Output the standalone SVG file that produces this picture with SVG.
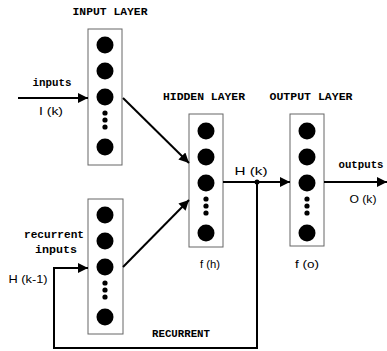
<svg xmlns="http://www.w3.org/2000/svg" width="387" height="351" viewBox="0 0 387 351">
  <style>
    .box { fill: #fff; stroke: #666; stroke-width: 1; }
    .unit { fill: #000; }
    .edge { fill: none; stroke: #000; stroke-width: 2; }
    .title { font-family: "Liberation Mono", monospace; font-weight: bold; font-size: 11px; fill: #000; text-anchor: middle; }
    .lbl { font-family: "Liberation Mono", monospace; font-weight: bold; font-size: 11px; fill: #000; text-anchor: middle; }
    .sym { font-family: "Liberation Sans", Arial, sans-serif; font-size: 11px; fill: #000; text-anchor: middle; }
  </style>
  <defs>
    <marker id="arrow" viewBox="0 0 10 10" refX="10" refY="5" markerWidth="6" markerHeight="5" markerUnits="strokeWidth" orient="auto">
      <path d="M0,0 L10,5 L0,10 Z" fill="#000"/>
    </marker>
    <!-- a column of neuron units: three circles, three dots, one circle -->
    <g id="column">
      <circle class="unit" cx="0" cy="0" r="8.5"/>
      <circle class="unit" cx="0" cy="26" r="8.5"/>
      <circle class="unit" cx="0" cy="52" r="8.5"/>
      <circle class="unit" cx="0" cy="68" r="2.6"/>
      <circle class="unit" cx="0" cy="75" r="2.6"/>
      <circle class="unit" cx="0" cy="82" r="2.6"/>
      <circle class="unit" cx="0" cy="102" r="8.5"/>
    </g>
  </defs>

  <rect width="387" height="351" fill="#fff"/>

  <g id="input-layer">
    <text class="title" x="110" y="15" textLength="75" lengthAdjust="spacingAndGlyphs">INPUT LAYER</text>
    <rect class="box" x="88" y="29" width="34" height="136"/>
    <use href="#column" x="105" y="45"/>
  </g>

  <g id="recurrent-layer">
    <rect class="box" x="88" y="199" width="35" height="135"/>
    <use href="#column" x="105" y="215"/>
    <text class="lbl" x="54" y="238" textLength="60" lengthAdjust="spacingAndGlyphs">recurrent</text>
    <text class="lbl" x="56" y="253" textLength="42" lengthAdjust="spacingAndGlyphs">inputs</text>
  </g>

  <g id="hidden-layer">
    <text class="title" x="204" y="100" textLength="82" lengthAdjust="spacingAndGlyphs">HIDDEN LAYER</text>
    <rect class="box" x="189" y="114" width="34" height="133"/>
    <use href="#column" x="206" y="131"/>
    <text class="sym" x="210" y="268" textLength="20" lengthAdjust="spacingAndGlyphs">f (h)</text>
  </g>

  <g id="output-layer">
    <text class="title" x="311" y="100" textLength="83" lengthAdjust="spacingAndGlyphs">OUTPUT LAYER</text>
    <rect class="box" x="290" y="114" width="34" height="132"/>
    <use href="#column" x="307" y="131"/>
    <text class="sym" x="307" y="268" textLength="24" lengthAdjust="spacingAndGlyphs">f (o)</text>
  </g>

  <g id="connectors">
    <!-- external inputs -->
    <line class="edge" x1="18" y1="98" x2="88" y2="98" marker-end="url(#arrow)"/>
    <!-- input and recurrent layers into hidden layer -->
    <line class="edge" x1="123" y1="98" x2="189" y2="163" marker-end="url(#arrow)"/>
    <line class="edge" x1="123" y1="267" x2="189" y2="200" marker-end="url(#arrow)"/>
    <!-- hidden to output -->
    <line class="edge" x1="223" y1="182" x2="290" y2="182" marker-end="url(#arrow)"/>
    <!-- outputs -->
    <line class="edge" x1="324" y1="182" x2="387" y2="182" marker-end="url(#arrow)"/>
    <!-- recurrent feedback loop -->
    <path class="edge" d="M257,182 V348 H54 V268 H88" marker-end="url(#arrow)"/>
    <circle class="unit" cx="257" cy="182" r="2.5"/>
  </g>

  <g id="labels">
    <text class="lbl" x="52" y="86" textLength="39" lengthAdjust="spacingAndGlyphs">inputs</text>
    <text class="sym" x="51" y="115" textLength="24" lengthAdjust="spacingAndGlyphs">I (k)</text>
    <text class="sym" x="251" y="175" textLength="33" lengthAdjust="spacingAndGlyphs">H (k)</text>
    <text class="lbl" x="361" y="168" textLength="45" lengthAdjust="spacingAndGlyphs">outputs</text>
    <text class="sym" x="363" y="203" textLength="27" lengthAdjust="spacingAndGlyphs">O (k)</text>
    <text class="sym" x="28" y="283" textLength="39" lengthAdjust="spacingAndGlyphs">H (k-1)</text>
    <text class="title" x="181" y="337" textLength="58" lengthAdjust="spacingAndGlyphs">RECURRENT</text>
  </g>
</svg>
